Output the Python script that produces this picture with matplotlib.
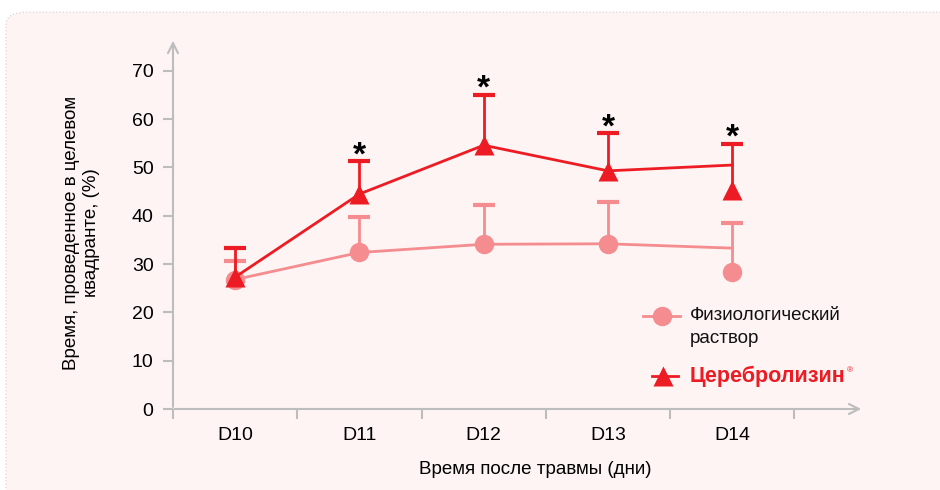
import matplotlib
matplotlib.use("Agg")
import matplotlib.pyplot as plt
from matplotlib.patches import FancyBboxPatch

plt.rcParams["font.family"] = ["Liberation Sans", "DejaVu Sans"]

days = ["D10", "D11", "D12", "D13", "D14"]

# Cerebrolysin: line passes through line means, markers drawn at marker means
cereb_line = [27.3, 44.5, 54.6, 49.3, 50.5]
cereb_marker = [27.3, 44.5, 54.6, 49.3, 45.3]
cereb_cap = [33.3, 51.3, 65.0, 57.1, 54.9]

saline_line = [26.8, 32.4, 34.1, 34.2, 33.3]
saline_marker = [26.8, 32.4, 34.1, 34.2, 28.4]
saline_cap = [30.6, 39.7, 42.2, 42.8, 38.5]

significant = [False, True, True, True, True]

y_ticks = [0, 10, 20, 30, 40, 50, 60, 70]

RED = "#ED1C24"
PINK = "#F58C8F"
GREY = "#BDBDBD"
BG = "#FDF4F3"

fig = plt.figure(figsize=(9.4, 4.9), dpi=100)
fig.patch.set_facecolor("white")

panel = FancyBboxPatch((6 / 940, -0.05), 1.1, 1 - 12 / 490 + 0.05,
                       boxstyle="round,pad=0,rounding_size=0.025",
                       transform=fig.transFigure, facecolor=BG,
                       edgecolor="#D0D0D0", linewidth=0.8, linestyle=(0, (1, 2)),
                       zorder=0)
fig.patches.append(panel)

ax = fig.add_axes([173 / 940, 1 - 409 / 490, (864 - 173) / 940, (409 - 38) / 490])
ax.set_zorder(2)
ax.set_facecolor("none")
x = list(range(len(days)))
ax.set_xlim(-0.5, 5.06)
ax.set_ylim(0, 76.8)

for s in ax.spines.values():
    s.set_visible(False)

# axes with arrow heads
ax.annotate("", xy=(1.0, 0), xytext=(-0.002, 0), xycoords="axes fraction",
            arrowprops=dict(arrowstyle="->", color=GREY, lw=1.5,
                            mutation_scale=18), annotation_clip=False)
ax.annotate("", xy=(0, 1.0), xytext=(0, -0.002), xycoords="axes fraction",
            arrowprops=dict(arrowstyle="->", color=GREY, lw=1.5,
                            mutation_scale=18), annotation_clip=False)

ax.set_yticks(y_ticks)
ax.tick_params(axis="y", length=7, width=1.5, color=GREY, labelsize=14, pad=7)
ax.set_xticks([i - 0.5 for i in range(len(days) + 1)])
ax.set_xticklabels([])
ax.set_xticks(x, minor=True)
ax.set_xticklabels(days, minor=True)
ax.tick_params(axis="x", which="major", length=7, width=1.5, color=GREY)
ax.tick_params(axis="x", which="minor", length=0, labelsize=14, pad=13)

# saline
ax.plot(x, saline_line, color=PINK, lw=2, zorder=2)
_, caps, _ = ax.errorbar(
    x, saline_marker,
    yerr=[[0] * len(x), [c - m for c, m in zip(saline_cap, saline_marker)]],
    fmt="o", color=PINK, ms=14, elinewidth=2, capsize=8, capthick=3,
    mec="none", zorder=3)
caps[0].set_visible(False)

# cerebrolysin
ax.plot(x, cereb_line, color=RED, lw=2, zorder=4)
_, caps, _ = ax.errorbar(
    x, cereb_marker,
    yerr=[[0] * len(x), [c - m for c, m in zip(cereb_cap, cereb_marker)]],
    fmt="^", color=RED, ms=15, elinewidth=2, capsize=8, capthick=3,
    mec="none", zorder=5)
caps[0].set_visible(False)

for xi, cap, sig in zip(x, cereb_cap, significant):
    if sig:
        ax.text(xi, cap - 0.6, "*", ha="center", va="baseline", fontsize=24,
                fontweight="bold", color="black")

ax.set_ylabel("Время, проведенное в целевом\nквадранте, (%)", fontsize=13.5,
              linespacing=1.25)
ax.yaxis.set_label_coords(-0.106, 0.475)
ax.set_xlabel("Время после травмы (дни)", fontsize=13.5)
ax.xaxis.set_label_coords((535 - 173) / 691, -0.14)

# legend drawn by hand
tr = ax.transAxes
ax.plot([0.680, 0.734], [0.251, 0.251], color=PINK, lw=2, transform=tr, clip_on=False)
ax.plot([0.707], [0.251], "o", color=PINK, ms=14, mec="none", transform=tr, clip_on=False)
ax.text(0.748, 0.275, "Физиологический\nраствор", transform=tr, fontsize=13.5,
        va="top", ha="left", linespacing=1.45, color="#111111")
ax.plot([0.693, 0.731], [0.089, 0.089], color=RED, lw=2, transform=tr, clip_on=False)
ax.plot([0.709], [0.089], "^", color=RED, ms=15, mec="none", transform=tr, clip_on=False)
brand = ax.text(0.748, 0.089, "Церебролизин", transform=tr, fontsize=15.5,
                fontweight="bold", va="center", ha="left", color=RED)
ax.annotate("®", xy=(1, 0.72), xycoords=brand, xytext=(1, 0),
            textcoords="offset points", fontsize=6, va="center", ha="left",
            color=RED)

fig.savefig("out.png", dpi=100, facecolor=fig.get_facecolor())
